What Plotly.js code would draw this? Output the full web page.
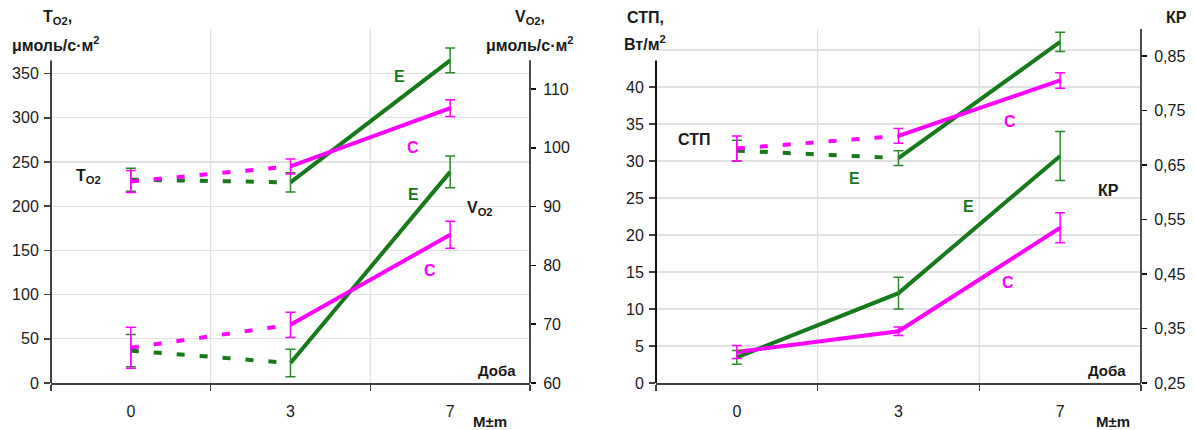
<!DOCTYPE html>
<html>
<head>
<meta charset="utf-8">
<script src="https://cdn.plot.ly/plotly-3.0.1.min.js"></script>
<style>html,body{margin:0;padding:0;background:#fff}#chart{width:1195px;height:430px}</style>
</head>
<body>
<div id="chart"></div>
<script>
// ---------- data ----------
const days = ['0', '3', '7'];

// left chart, left axis: T O2 (μмоль/с·м²)
const tO2_E = [230, 227, 365];
const tO2_E_err = [13, 11, 14];
const tO2_C = [228, 245, 311];
const tO2_C_err = [12.5, 8.5, 9.5];

// left chart, right axis: V O2 (μмоль/с·м²)
const vO2_E = [65.5, 63.4, 95.9];
const vO2_E_err = [2.75, 2.35, 2.7];
const vO2_C = [66.0, 69.9, 85.2];
const vO2_C_err = [3.5, 2.15, 2.3];

// right chart, left axis: СТП (Вт/м²)
const stp_E = [31.4, 30.4, 46.1];
const stp_E_err = [1.4, 1.0, 1.3];
const stp_C = [31.7, 33.4, 40.9];
const stp_C_err = [1.7, 1.0, 1.05];

// right chart, right axis: КР
const kr_E = [0.297, 0.415, 0.667];
const kr_E_err = [0.0125, 0.029, 0.045];
const kr_C = [0.307, 0.345, 0.535];
const kr_C_err = [0.012, 0.008, 0.0275];

// tick values
const tTicks = [0, 50, 100, 150, 200, 250, 300, 350];
const vTicks = [60, 70, 80, 90, 100, 110];
const stpTicks = [0, 5, 10, 15, 20, 25, 30, 35, 40];
const krTicks = [0.25, 0.35, 0.45, 0.55, 0.65, 0.75, 0.85];

// ---------- styling ----------
const W = 1195, H = 430;
const GREEN = '#16791a';
const GREEN_ERR = '#2a8a2a';
const MAG = '#ff00ff';
const FONT = 'Liberation Sans, Arial, Helvetica, sans-serif';
const xpos = days.map((d, i) => i);
const bounds = [-0.5, 0.5, 1.5, 2.5];

function seg(xa, ya, color, dashed, axX, axY) {
  return {
    x: xa, y: ya, xaxis: axX, yaxis: axY, type: 'scatter', mode: 'lines',
    line: {color: color, width: 4, dash: dashed ? '8px,15px' : 'solid'},
    hoverinfo: 'skip', showlegend: false
  };
}
function errs(ya, ea, color, axX, axY) {
  return {
    x: xpos, y: ya, xaxis: axX, yaxis: axY, type: 'scatter', mode: 'markers',
    marker: {size: 2, color: 'rgba(0,0,0,0)'},
    error_y: {type: 'data', array: ea, visible: true, color: color, thickness: 1.5, width: 5},
    hoverinfo: 'skip', showlegend: false
  };
}
// dashed part (days 0..3) and solid part (days 3..7)
function dashedSolid(ya, color, axX, axY) {
  return [
    seg(xpos.slice(0, 2), ya.slice(0, 2), color, true, axX, axY),
    seg(xpos.slice(1), ya.slice(1), color, false, axX, axY)
  ];
}

const traces = [].concat(
  dashedSolid(tO2_E, GREEN, 'x', 'y'),
  dashedSolid(tO2_C, MAG, 'x', 'y'),
  dashedSolid(vO2_E, GREEN, 'x', 'y2'),
  dashedSolid(vO2_C, MAG, 'x', 'y2'),
  dashedSolid(stp_E, GREEN, 'x2', 'y3'),
  dashedSolid(stp_C, MAG, 'x2', 'y3'),
  [seg(xpos, kr_E, GREEN, false, 'x2', 'y4'), seg(xpos, kr_C, MAG, false, 'x2', 'y4')],
  [
    errs(tO2_E, tO2_E_err, GREEN_ERR, 'x', 'y'),
    errs(tO2_C, tO2_C_err, MAG, 'x', 'y'),
    errs(vO2_E, vO2_E_err, GREEN_ERR, 'x', 'y2'),
    errs(vO2_C, vO2_C_err, MAG, 'x', 'y2'),
    errs(stp_E, stp_E_err, GREEN_ERR, 'x2', 'y3'),
    errs(stp_C, stp_C_err, MAG, 'x2', 'y3'),
    errs(kr_E, kr_E_err, GREEN_ERR, 'x2', 'y4'),
    errs(kr_C, kr_C_err, MAG, 'x2', 'y4')
  ]
);

const yDom = [47 / H, 401 / H];
const tickFont = {family: FONT, size: 16, color: '#1a1a1a'};
const GRID = '#e1e1e1';

function xAxis(dom, anchor) {
  return {
    domain: dom, anchor: anchor, range: [-0.5, 2.5], fixedrange: true,
    tickmode: 'array', tickvals: xpos, ticktext: days, ticks: '',
    showgrid: false, zeroline: false, showline: true, linecolor: '#404040', linewidth: 2,
    tickfont: tickFont, ticklabelstandoff: 13,
    minor: {tickmode: 'array', tickvals: bounds, ticks: 'outside', ticklen: 6,
            tickcolor: '#404040', tickwidth: 1.5, showgrid: false}
  };
}

const layout = {
  width: W, height: H,
  margin: {l: 0, r: 0, t: 0, b: 0},
  paper_bgcolor: '#fff', plot_bgcolor: 'rgba(0,0,0,0)',
  hovermode: false, showlegend: false,
  font: {family: FONT, color: '#1a1a1a'},
  xaxis: xAxis([51 / W, 530 / W], 'y'),
  xaxis2: xAxis([656 / W, 1141 / W], 'y3'),
  yaxis: {
    domain: yDom, anchor: 'x', range: [0, 400.5], fixedrange: true,
    tickmode: 'array', tickvals: tTicks, ticks: 'outside', ticklen: 6, tickwidth: 1.5,
    tickcolor: '#404040', showgrid: true, gridcolor: GRID, gridwidth: 1.3,
    zeroline: false, showline: false, tickfont: tickFont, ticklabelstandoff: 2
  },
  yaxis2: {
    overlaying: 'y', side: 'right', anchor: 'x', range: [60, 120.2], fixedrange: true,
    tickmode: 'array', tickvals: vTicks, ticks: 'outside', ticklen: 5, tickwidth: 1.5,
    tickcolor: '#111', showgrid: false, zeroline: false, showline: false,
    tickfont: tickFont, ticklabelstandoff: 4
  },
  yaxis5: {
    overlaying: 'y', side: 'right', anchor: 'x', range: [60, 120.2], fixedrange: true,
    tickmode: 'array', tickvals: vTicks, ticks: 'inside', ticklen: 5, tickwidth: 1.5,
    tickcolor: '#111', showgrid: false, zeroline: false, showline: false, showticklabels: false
  },
  yaxis3: {
    domain: yDom, anchor: 'x2', range: [0, 47.85], fixedrange: true,
    tickmode: 'array', tickvals: stpTicks, ticks: 'outside', ticklen: 6, tickwidth: 1.5,
    tickcolor: '#404040', showgrid: true, gridcolor: GRID, gridwidth: 1.3,
    zeroline: false, showline: false, tickfont: tickFont, ticklabelstandoff: 2,
    minor: {tickmode: 'array', tickvals: [45], ticks: '', showgrid: true, gridcolor: GRID, gridwidth: 1.3}
  },
  yaxis4: {
    overlaying: 'y3', side: 'right', anchor: 'x2', range: [0.25, 0.9], fixedrange: true,
    tickmode: 'array', tickvals: krTicks, ticktext: krTicks.map(v => v.toFixed(2).replace('.', ',')),
    ticks: 'outside', ticklen: 5, tickwidth: 1.5,
    tickcolor: '#111', showgrid: false, zeroline: false, showline: false,
    tickfont: tickFont, ticklabelstandoff: 4
  },
  yaxis6: {
    overlaying: 'y3', side: 'right', anchor: 'x2', range: [0.25, 0.9], fixedrange: true,
    tickmode: 'array', tickvals: krTicks, ticks: 'inside', ticklen: 5, tickwidth: 1.5,
    tickcolor: '#111', showgrid: false, zeroline: false, showline: false, showticklabels: false
  },
  shapes: [
    // vertical gridlines at category boundaries
    {type: 'line', xref: 'x', yref: 'y domain', x0: 0.5, x1: 0.5, y0: 0, y1: 1, line: {color: GRID, width: 1.3}, layer: 'below'},
    {type: 'line', xref: 'x', yref: 'y domain', x0: 1.5, x1: 1.5, y0: 0, y1: 1, line: {color: GRID, width: 1.3}, layer: 'below'},
    {type: 'line', xref: 'x2', yref: 'y3 domain', x0: 0.5, x1: 0.5, y0: 0, y1: 1, line: {color: GRID, width: 1.3}, layer: 'below'},
    {type: 'line', xref: 'x2', yref: 'y3 domain', x0: 1.5, x1: 1.5, y0: 0, y1: 1, line: {color: GRID, width: 1.3}, layer: 'below'},
    // axis lines
    {type: 'line', xref: 'x domain', yref: 'y', x0: 0, x1: 0, y0: 0, y1: 365, line: {color: '#404040', width: 2}},
    {type: 'line', xref: 'x domain', yref: 'y2', x0: 1, x1: 1, y0: 60, y1: 114.9, line: {color: '#111', width: 1.5}},
    {type: 'line', xref: 'x2 domain', yref: 'y3', x0: 0, x1: 0, y0: 0, y1: 43.6, line: {color: '#111', width: 2}},
    {type: 'line', xref: 'x2 domain', yref: 'y4', x0: 1, x1: 1, y0: 0.25, y1: 0.9, line: {color: '#111', width: 1.5}}
  ],
  annotations: []
};

function note(text, x, y, color, size) {
  layout.annotations.push({
    text: text, xref: 'paper', yref: 'paper', x: x / W, y: 1 - y / H,
    xanchor: 'center', yanchor: 'middle', showarrow: false,
    font: {family: FONT, size: size || 15, color: color || '#1a1a1a'}
  });
}
const BL = '#1a1a1a';
// left chart labels
note('<b>T<sub>O2</sub>,</b>', 57, 18, BL, 16);
note('<b>μмоль/с·м<sup>2</sup></b>', 56, 44, BL, 16);
note('<b>V<sub>O2</sub>,</b>', 530, 18, BL, 16);
note('<b>μмоль/с·м<sup>2</sup></b>', 530, 44, BL, 16);
note('<b>T<sub>O2</sub></b>', 88, 177, BL, 16);
note('<b>V<sub>O2</sub></b>', 480, 209, BL, 16);
note('<b>E</b>', 399, 76, GREEN, 16);
note('<b>C</b>', 413, 147, MAG, 16);
note('<b>E</b>', 413, 195, GREEN, 16);
note('<b>C</b>', 430, 270, MAG, 16);
note('<b>Доба</b>', 497, 370, BL, 15);
note('<b>M±m</b>', 490, 421, BL, 15);
// right chart labels
note('<b>СТП,</b>', 645, 18, BL, 16);
note('<b>Вт/м<sup>2</sup></b>', 645, 43, BL, 16);
note('<b>КР</b>', 1176, 17, BL, 16);
note('<b>СТП</b>', 694, 139, BL, 16);
note('<b>E</b>', 854, 178, GREEN, 16);
note('<b>C</b>', 1010, 121, MAG, 16);
note('<b>КР</b>', 1108, 190, BL, 16);
note('<b>E</b>', 968, 206, GREEN, 16);
note('<b>C</b>', 1008, 282, MAG, 16);
note('<b>Доба</b>', 1107, 370, BL, 15);
note('<b>M±m</b>', 1113, 421, BL, 15);

Plotly.newPlot('chart', traces, layout, {staticPlot: true, displayModeBar: false});
</script>
</body>
</html>
